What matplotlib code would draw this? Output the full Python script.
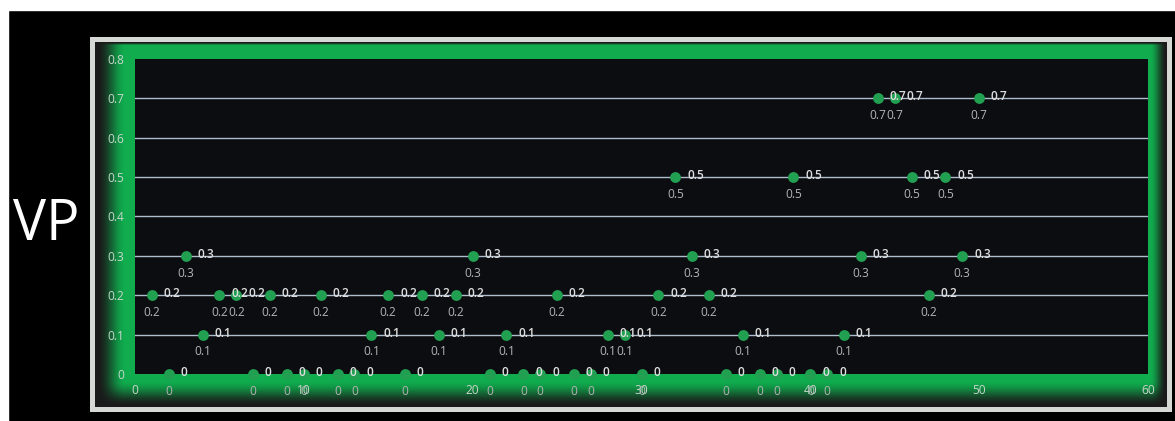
import numpy as np
import matplotlib
matplotlib.use("Agg")
import matplotlib.pyplot as plt
from matplotlib.patches import Rectangle

# data
x_vals = [1, 2, 3, 4, 5, 6, 7, 8, 9, 10,
          11, 12, 13, 14, 15, 16, 17, 18, 19, 20,
          21, 22, 23, 24, 25, 26, 27, 28, 29, 30,
          31, 32, 33, 34, 35, 36, 37, 38, 39, 40,
          41, 42, 43, 44, 45, 46, 47, 48, 49, 50]
vp_vals = [0.2, 0, 0.3, 0.1, 0.2, 0.2, 0, 0.2, 0, 0,
           0.2, 0, 0, 0.1, 0.2, 0, 0.2, 0.1, 0.2, 0.3,
           0, 0.1, 0, 0, 0.2, 0, 0, 0.1, 0.1, 0,
           0.2, 0.5, 0.3, 0.2, 0, 0.1, 0, 0, 0.5, 0,
           0, 0.1, 0.3, 0.7, 0.7, 0.5, 0.2, 0.5, 0.3, 0.7]
x_ticks = [0, 10, 20, 30, 40, 50, 60]
y_ticks = [0, 0.1, 0.2, 0.3, 0.4, 0.5, 0.6, 0.7, 0.8]

W, H = 1175, 421
plt.rcParams['font.family'] = ['Open Sans', 'DejaVu Sans']

fig = plt.figure(figsize=(W / 100, H / 100), dpi=100, facecolor='black')

# white strips at top and left of the screenshot
fig.patches.append(Rectangle((0, 1 - 10 / H), 1, 10 / H, transform=fig.transFigure,
                             color='white', zorder=0))
fig.patches.append(Rectangle((0, 0), 8 / W, 1, transform=fig.transFigure,
                             color='white', zorder=0))

# chart area frame with green fill and dark soft edges
fx0, fy0, fx1, fy1 = 90, 37, 1172, 412
fw, fh = fx1 - fx0, fy1 - fy0
img = np.zeros((fh, fw, 3))
yy, xx = np.mgrid[0:fh, 0:fw]
border = 5
dl = (xx - border - 2) / 28.0
dr = (fw - border - 1 - xx) / 16.0
db = (fh - border - 1 - yy) / 26.0
dt = (yy - border) / 3.0


def smooth(t):
    t = np.clip(t, 0, 1)
    return t * t * (3 - 2 * t)


f = smooth(dl) * smooth(dr) * smooth(db) * smooth(dt)
green = np.array([16, 172, 78]) / 255
dark = np.array([26, 26, 26]) / 255
img[:] = dark + (green - dark) * f[..., None]
edge = (xx < border) | (xx >= fw - border) | (yy < border) | (yy >= fh - border)
img[edge] = np.array([214, 216, 214]) / 255

bg = fig.add_axes([fx0 / W, (H - fy1) / H, fw / W, fh / H])
bg.imshow(img, aspect='auto', interpolation='bilinear')
bg.axis('off')

# plot area
ax = fig.add_axes([135 / W, (H - 374) / H, (1148 - 135) / W, (374 - 59) / H])
ax.set_facecolor('#0c0d11')
ax.set_xlim(0, 60)
ax.set_ylim(0, 0.8)
for s in ax.spines.values():
    s.set_visible(False)
ax.set_xticks(x_ticks)
ax.set_yticks(y_ticks)
ax.set_yticklabels([f'{v:g}' for v in y_ticks])
ax.tick_params(length=0, labelsize=8.6, colors='#c6d8cc')
ax.tick_params(axis='y', pad=8)
ax.tick_params(axis='x', pad=7)
for v in y_ticks[1:-1]:
    ax.axhline(v, color='#aebdcc', lw=1, zorder=1)

ax.plot(x_vals, vp_vals, 'o', color='#22a052', markersize=7.8, markeredgewidth=0,
        clip_on=False, zorder=3)

for x, y in zip(x_vals, vp_vals):
    lab = f'{y:g}'
    ax.annotate(lab, (x, y), xytext=(8.5, 1), textcoords='offset points',
                ha='left', va='center', fontsize=8.6, color='#dedede',
                fontweight='semibold', annotation_clip=False, zorder=4)
    ax.annotate(lab, (x, y), xytext=(0, -12.5), textcoords='offset points',
                ha='center', va='center', fontsize=8.6, color='#b4b4b4',
                annotation_clip=False, zorder=4)

fig.text(46 / W, 1 - 226 / H, 'VP', color='white', fontsize=40,
         ha='center', va='center')

fig.savefig('out.png', dpi=100, facecolor='black')
